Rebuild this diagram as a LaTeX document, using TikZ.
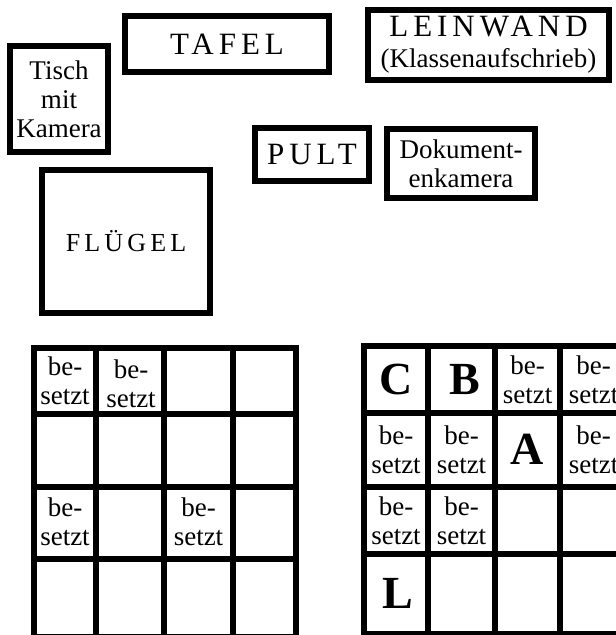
\documentclass[tikz,border=0pt]{standalone}
\usepackage{fontspec}
\setmainfont{Liberation Serif}
\newfontfamily\spacedfont[LetterSpace=16]{Liberation Serif}

\begin{document}
\begin{tikzpicture}[x=1pt,y=-1pt,
  box/.style={draw,line width=6pt,inner sep=0pt,align=center,font=\fontsize{27}{29}\selectfont},
  spaced/.style={font=\spacedfont\fontsize{31}{31}\selectfont},
  gridline/.style={line width=6pt,line cap=rect},
  cell/.style={align=center,inner sep=0pt,font=\fontsize{27}{29}\selectfont},
  big/.style={inner sep=0pt,font=\bfseries\fontsize{46}{46}\selectfont}]
\useasboundingbox (0,0) rectangle (616,635);
\clip (0,0) rectangle (616,635);
\node[box,minimum width=98pt,minimum height=106pt] (tisch) at (59,99) {Tisch\\mit\\Kamera};
\node[box,spaced,minimum width=204pt,minimum height=56pt] (tafel) at (227,44) {TAFEL};
\node[box,minimum width=241pt,minimum height=70pt] (leinwand) at (488.5,45) {{\spacedfont\fontsize{31}{31}\selectfont LEINWAND}\\[2pt](Klassenaufschrieb)};
\node[box,spaced,minimum width=114pt,minimum height=53pt] (pult) at (312,154.5) {PULT};
\node[box,minimum width=148pt,minimum height=69pt] (doku) at (461,163.5) {Dokument-\\enkamera};
\node[box,minimum width=168pt,minimum height=143pt,font=\spacedfont\fontsize{26}{26}\selectfont] (fluegel) at (126,241.5) {FLÜGEL};
\foreach \x in {34,96,163.5,233,296} \draw[gridline] (\x,348) -- (\x,637);
\foreach \y in {348,414,487,559,637} \draw[gridline] (34,\y) -- (296,\y);
\node[cell] (l11) at (65,381) {be-\\setzt};
\node[cell] (l12) at (131,384) {be-\\setzt};
\node[cell] (l31) at (65,522) {be-\\setzt};
\node[cell] (l33) at (198.5,522) {be-\\setzt};
\foreach \x in {364,428,495,560,627} \draw[gridline] (\x,346) -- (\x,634);
\foreach \y in {346,413,487,554,634} \draw[gridline] (364,\y) -- (627,\y);
\node[big] (platzC) at (396,379.5) {C};
\node[big] (platzB) at (465,379.5) {B};
\node[cell] (r13) at (527.5,379.5) {be-\\setzt};
\node[cell] (r14) at (593.5,379.5) {be-\\setzt};
\node[cell] (r21) at (396,450) {be-\\setzt};
\node[cell] (r22) at (461.5,450) {be-\\setzt};
\node[big] (platzA) at (527.5,449) {A};
\node[cell] (r24) at (593.5,450) {be-\\setzt};
\node[cell] (r31) at (396,520.5) {be-\\setzt};
\node[cell] (r32) at (461.5,520.5) {be-\\setzt};
\node[big] (platzL) at (398,593) {L};
\end{tikzpicture}
\end{document}
